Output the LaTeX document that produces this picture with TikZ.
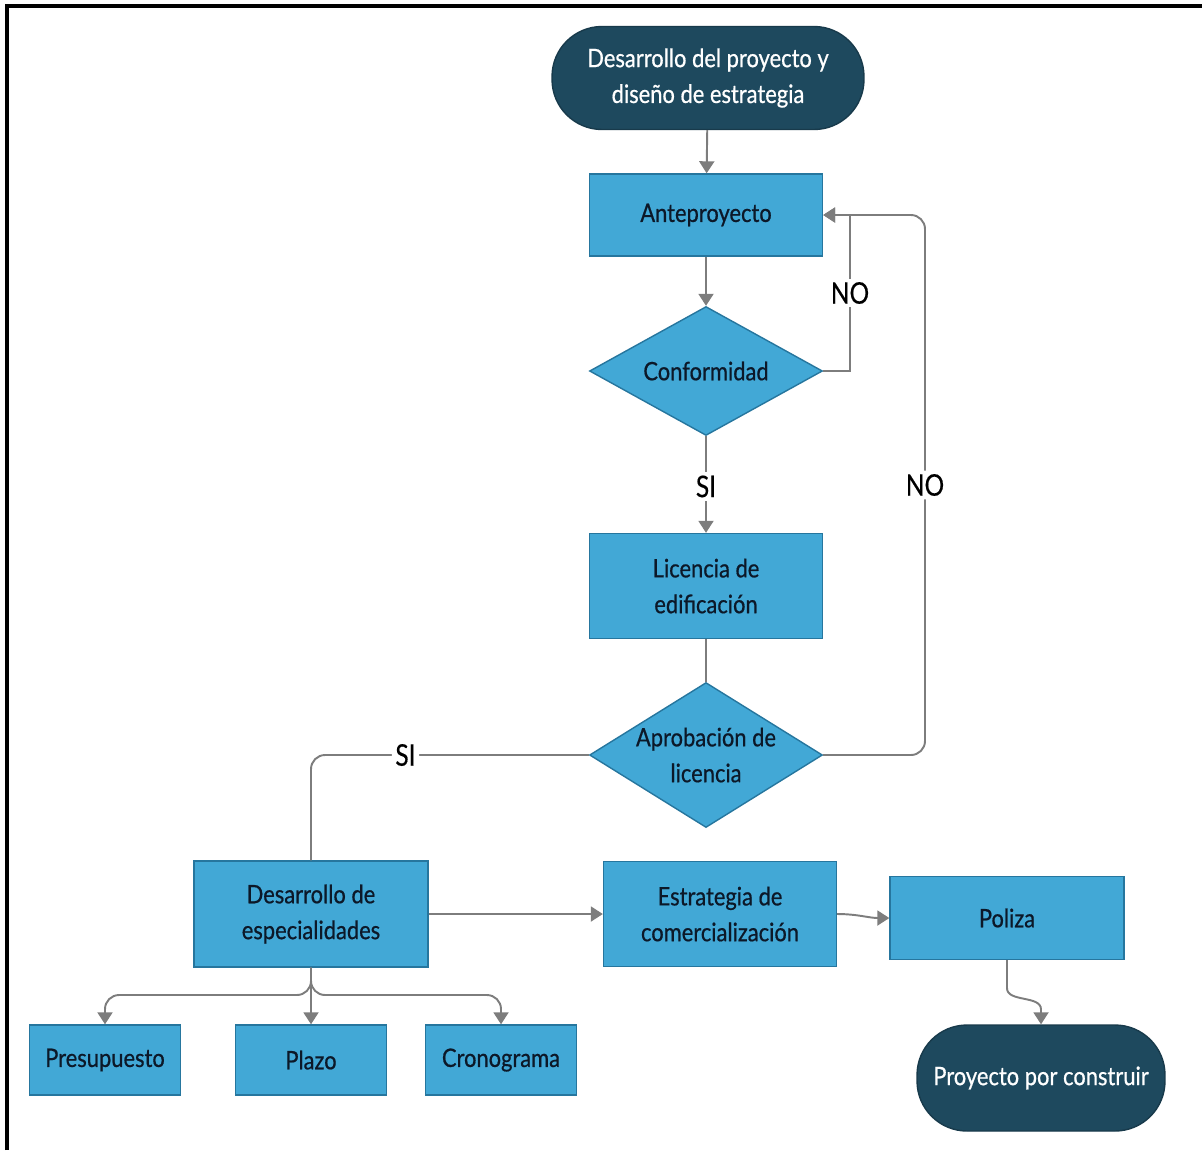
\documentclass[tikz,border=0pt]{standalone}
\usepackage{fontspec}
\setmainfont[FakeStretch=0.86,FakeBold=0.6]{Lato}
\newfontfamily\lblfont[FakeStretch=0.82,FakeBold=0.4]{Lato}
\usetikzlibrary{shapes.geometric,arrows.meta}
\definecolor{boxfill}{RGB}{66,168,214}
\definecolor{boxline}{RGB}{38,118,158}
\definecolor{termfill}{RGB}{30,73,94}
\definecolor{arrgray}{RGB}{125,125,125}
\definecolor{txtdark}{RGB}{12,24,40}
\tikzset{
  base/.style={inner sep=0pt, align=center, text=txtdark, font=\fontsize{14.5}{20.4}\selectfont},
  procbox/.style={base, rectangle, draw=boxline, line width=0.8pt, fill=boxfill},
  decbox/.style={base, diamond, draw=boxline, line width=0.8pt, fill=boxfill},
  termbox/.style={base, rectangle, rounded corners=1.0cm, fill=termfill, draw=termfill!80!black, line width=0.8pt, text=white},
  conn/.style={draw=arrgray, line width=1.1pt},
  arr/.style={conn, -{Triangle[width=0.3cm,length=0.24cm]}},
  lbl/.style={fill=white, inner sep=2pt, text=black, font=\lblfont\fontsize{17}{20}\selectfont}
}
\begin{document}
\begin{tikzpicture}[x=0.02cm,y=-0.02cm]
\useasboundingbox (0,0) rectangle (1202,1150);
\draw[line width=2.2pt, black] (7,1150) -- (7,6) -- (1202,6);

% nodes
\node[termbox, minimum width=6.24cm, minimum height=2.06cm] (start) at (708,78) {Desarrollo del proyecto y\\dise\~no de estrategia};
\node[procbox, minimum width=4.66cm, minimum height=1.64cm] (ante) at (706,215) {Anteproyecto};
\node[decbox, aspect=1.8, minimum width=4.66cm, minimum height=2.58cm] (conf) at (706,371) {Conformidad};
\node[procbox, minimum width=4.66cm, minimum height=2.10cm] (lic) at (706,586) {Licencia de\\edificaci\'on};
\node[decbox, aspect=1.6, minimum width=4.66cm, minimum height=2.90cm] (apro) at (706,755) {Aprobaci\'on de\\licencia};
\node[procbox, minimum width=4.68cm, minimum height=2.12cm] (desa) at (311,914) {Desarrollo de\\especialidades};
\node[procbox, minimum width=4.66cm, minimum height=2.10cm] (estr) at (720,914) {Estrategia de\\comercializaci\'on};
\node[procbox, minimum width=4.68cm, minimum height=1.66cm] (poli) at (1007,918) {Poliza};
\node[termbox, minimum width=4.96cm, minimum height=2.12cm] (fin) at (1041,1078) {Proyecto por construir};
\node[procbox, minimum width=3.02cm, minimum height=1.40cm] (pres) at (105,1060) {Presupuesto};
\node[procbox, minimum width=3.02cm, minimum height=1.40cm] (plaz) at (311,1060) {Plazo};
\node[procbox, minimum width=3.02cm, minimum height=1.40cm] (cron) at (501,1060) {Cronograma};

% helper coordinates
\coordinate (c1) at (850,371);
\coordinate (c2) at (850,215);
\coordinate (n1) at (925,755);
\coordinate (n2) at (925,215);
\coordinate (s1) at (311,755);
\coordinate (b1) at (311,995);

% connectors
\draw[arr] (start) -- (ante);
\draw[arr] (ante) -- (conf);
\draw[arr] (conf.east) -- (c1) -- node[lbl]{NO} (c2) -- (ante.east);
\draw[arr] (conf.south) -- node[lbl, pos=0.52]{SI} (lic.north);
\draw[conn] (lic.south) -- (apro.north);
\draw[arr, rounded corners=8] (apro.east) -- (n1) -- node[lbl, pos=0.5]{NO} (n2) -- (ante.east);
\draw[conn, rounded corners=8] (apro.west) -- node[lbl, pos=0.66]{SI} (s1) -- (desa.north);
\draw[arr] (desa.east) -- (estr.west);
\draw[arr] (estr.east) to[out=0, in=180] (poli.west);
\draw[arr] (poli.south) -- ++(0,28) to[out=-90, in=90, looseness=0.9] ([yshift=0.3cm]fin.north) -- (fin.north);
\draw[arr, rounded corners=8] (desa.south) -- (b1) -| (pres.north);
\draw[arr, rounded corners=8] (desa.south) -- (b1) -| (cron.north);
\draw[arr] (desa.south) -- (plaz.north);
\end{tikzpicture}
\end{document}
